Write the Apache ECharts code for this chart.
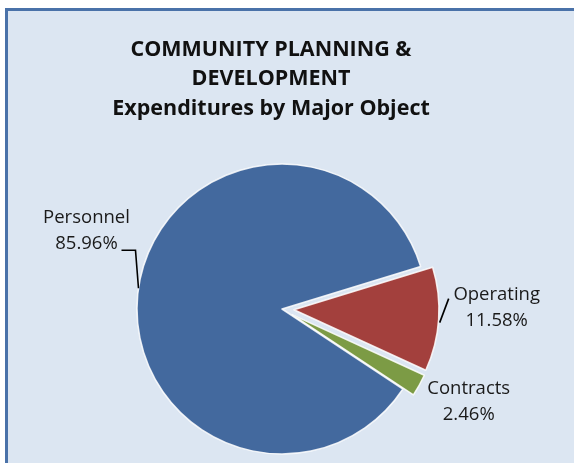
<!DOCTYPE html>
<html>
<head>
<meta charset="utf-8">
<script src="https://cdn.jsdelivr.net/npm/echarts@6/dist/echarts.min.js"></script>
<style>
  html, body { margin: 0; padding: 0; background: #ffffff; }
  #chart { width: 574px; height: 463px; }
</style>
</head>
<body>
<div id="chart"></div>
<script>
// Expenditure shares by major object (percent of total)
const categories = ['Personnel', 'Operating', 'Contracts'];
const shares = [85.96, 11.58, 2.46];
const sliceColors = ['#43699e', '#a3403d', '#7c9b45'];
const pulledOut = [false, true, true];

// Label text centre, relative to the slice's edge point on the rim.
const labelOffsets = [[-52, -58], [70, -11], [60, 22]];
// Leader-line points, relative to the same edge point (empty: no leader).
const leaderLines = [
  [[0, 0], [-3, -38], [-17, -38]],
  [[13, 4], [22, -20]],
  []
];

const PIE_CENTER = [282, 309];
const PIE_RADIUS = 145;
const START_ANGLE = 326.5;

const chart = echarts.init(document.getElementById('chart'), null, { renderer: 'canvas' });

const sliceData = categories.map((name, i) => ({
  name: name,
  value: shares[i],
  selected: pulledOut[i],
  itemStyle: { color: sliceColors[i] }
}));

// Transparent twin of the pie that carries the category labels,
// so the labels stay where they are placed while slices are pulled out.
const labelData = categories.map((name, i) => ({
  name: name,
  value: shares[i],
  labelLine: { show: leaderLines[i].length > 0 }
}));

chart.setOption({
  animation: false,
  backgroundColor: '#ffffff',
  graphic: [{
    type: 'rect',
    shape: { x: 6.5, y: 9.5, width: 700, height: 700 },
    style: { fill: '#dce6f2', stroke: '#4a72a9', lineWidth: 3 },
    z: -10,
    silent: true
  }],
  title: {
    text: 'COMMUNITY PLANNING &\nDEVELOPMENT\nExpenditures by Major Object',
    left: 266,
    top: 30,
    textAlign: 'center',
    textStyle: {
      fontFamily: 'Open Sans',
      fontWeight: 'bold',
      fontSize: 21.5,
      lineHeight: 29.5,
      color: '#111111'
    }
  },
  series: [
    {
      type: 'pie',
      center: PIE_CENTER,
      radius: PIE_RADIUS,
      startAngle: START_ANGLE,
      selectedMode: 'multiple',
      selectedOffset: 12,
      silent: true,
      data: sliceData,
      itemStyle: { borderColor: 'rgba(255,255,255,0.85)', borderWidth: 1.5 },
      label: { show: false },
      labelLine: { show: false }
    },
    {
      type: 'pie',
      center: PIE_CENTER,
      radius: PIE_RADIUS,
      startAngle: START_ANGLE,
      silent: true,
      z: 3,
      data: labelData,
      itemStyle: { color: 'rgba(0,0,0,0)', borderWidth: 0 },
      label: {
        show: true,
        position: 'outside',
        formatter: p => p.name + '\n' + p.value.toFixed(2) + '%',
        fontFamily: 'Open Sans',
        fontSize: 18.5,
        lineHeight: 26,
        color: '#1a1a1a'
      },
      labelLine: {
        show: true,
        length: 10,
        length2: 10,
        lineStyle: { color: '#000000', width: 1.6 }
      },
      labelLayout: function (params) {
        const i = params.dataIndex;
        const p0 = params.labelLinePoints[0];
        const off = labelOffsets[i];
        const out = {
          x: p0[0] + off[0],
          y: p0[1] + off[1],
          align: 'center',
          verticalAlign: 'middle'
        };
        if (leaderLines[i].length) {
          out.labelLinePoints = leaderLines[i].map(b => [p0[0] + b[0], p0[1] + b[1]]);
        }
        return out;
      }
    }
  ]
});
</script>
</body>
</html>
